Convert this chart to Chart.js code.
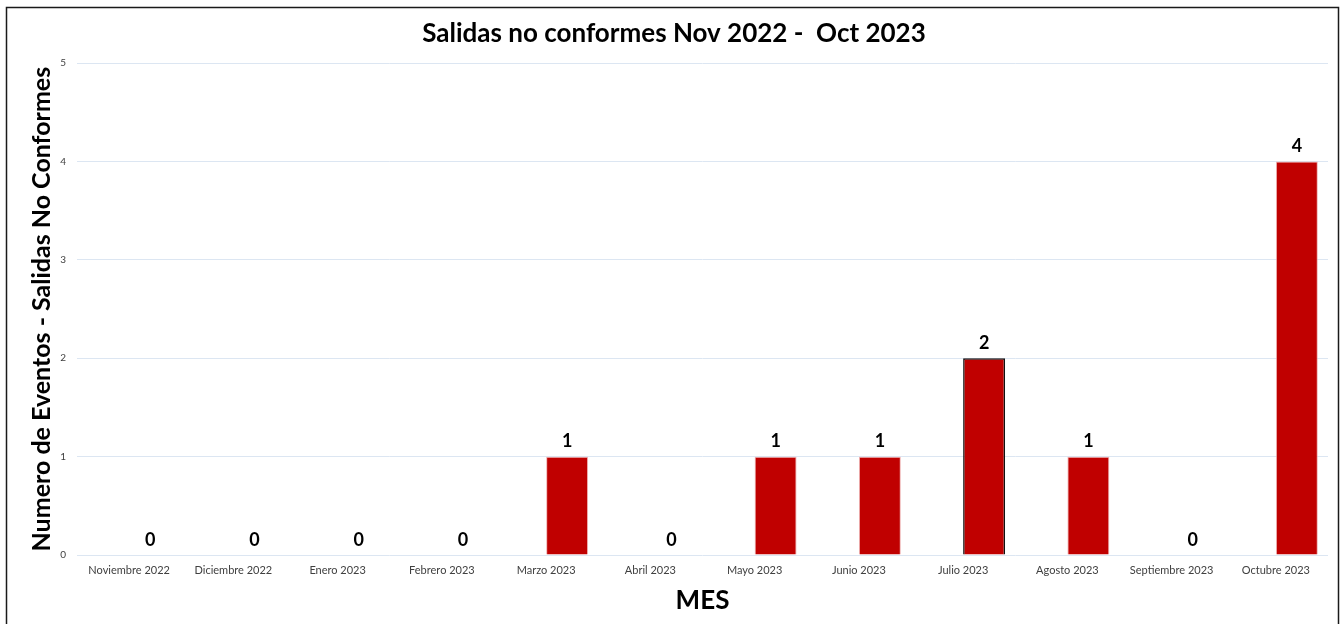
<!DOCTYPE html>
<html>
<head>
<meta charset="utf-8">
<script src="https://cdn.jsdelivr.net/npm/chart.js@4.4.0/dist/chart.umd.min.js"></script>
<style>
  html, body { margin: 0; padding: 0; background: #ffffff; }
  #wrap { width: 1344px; height: 624px; position: relative; }
</style>
</head>
<body>
<div id="wrap"><canvas id="chart" width="1344" height="624"></canvas></div>
<script>
// Monthly count of non-conforming outputs
const months = [
  'Noviembre 2022', 'Diciembre 2022', 'Enero 2023', 'Febrero 2023',
  'Marzo 2023', 'Abril 2023', 'Mayo 2023', 'Junio 2023',
  'Julio 2023', 'Agosto 2023', 'Septiembre 2023', 'Octubre 2023'
];
// Empty companion series: keeps its slot in each group, so the event bars sit right of centre
const serieVacia = [null, null, null, null, null, null, null, null, null, null, null, null];
const eventos = [0, 0, 0, 0, 1, 0, 1, 1, 2, 1, 0, 4];
const yTicks = [0, 1, 2, 3, 4, 5];

const chartTitle = 'Salidas no conformes Nov 2022 -  Oct 2023';
const yTitle = 'Numero de Eventos - Salidas No Conformes';
const xTitle = 'MES';

const FONT = 'Lato, "Open Sans", "DejaVu Sans", sans-serif';

// White background with a thin dark frame around the chart
const framePlugin = {
  id: 'frame',
  beforeDraw(chart) {
    const c = chart.ctx;
    c.save();
    c.fillStyle = '#ffffff';
    c.fillRect(0, 0, chart.width, chart.height);
    c.strokeStyle = '#1a1a1a';
    c.lineWidth = 1.5;
    c.strokeRect(6.5, 7.5, 1332, 640);
    c.restore();
  }
};

// Value labels above each event bar
const valueLabels = {
  id: 'valueLabels',
  afterDatasetsDraw(chart) {
    const c = chart.ctx;
    const meta = chart.getDatasetMeta(1);
    c.save();
    c.font = 'bold 18px ' + FONT;
    c.fillStyle = '#000000';
    c.textAlign = 'center';
    c.textBaseline = 'bottom';
    meta.data.forEach((bar, i) => {
      c.fillText(String(chart.data.datasets[1].data[i]), bar.x, bar.y - 6);
    });
    c.restore();
  }
};

new Chart(document.getElementById('chart'), {
  type: 'bar',
  data: {
    labels: months,
    datasets: [
      {
        data: serieVacia,
        backgroundColor: 'rgba(0,0,0,0)',
        barPercentage: 1.0,
        categoryPercentage: 0.805
      },
      {
        data: eventos,
        backgroundColor: '#C00000',
        borderColor: (ctx) => ctx.raw === 2 ? '#111111' : 'rgba(235,160,160,0.8)',
        borderWidth: (ctx) => ctx.raw === 2 ? 1.5 : 1,
        borderSkipped: 'bottom',
        barPercentage: 1.0,
        categoryPercentage: 0.805
      }
    ]
  },
  options: {
    responsive: false,
    animation: false,
    layout: { padding: { left: 20, right: 16, top: 0, bottom: 0 } },
    plugins: {
      legend: { display: false },
      tooltip: { enabled: false },
      title: {
        display: true,
        text: chartTitle,
        color: '#000000',
        font: { family: FONT, size: 26, weight: 'bold' },
        padding: { top: 18, bottom: 14 }
      }
    },
    scales: {
      x: {
        grid: { display: false, drawTicks: false },
        border: { display: false },
        ticks: {
          color: '#404040',
          font: { family: FONT, size: 11 },
          padding: 9,
          maxRotation: 0,
          autoSkip: false
        },
        title: {
          display: true,
          text: xTitle,
          color: '#000000',
          font: { family: FONT, size: 26, weight: 'bold' },
          padding: { top: 0, bottom: 8 }
        },
        afterFit(scale) { scale.height = 69; }
      },
      y: {
        min: 0,
        max: 5,
        afterBuildTicks(scale) { scale.ticks = yTicks.map(v => ({ value: v })); },
        grid: { color: '#dce6f2', lineWidth: 1, drawTicks: false },
        border: { display: false },
        ticks: {
          color: '#404040',
          font: { family: FONT, size: 10 },
          padding: 11
        },
        title: {
          display: true,
          text: yTitle,
          color: '#000000',
          font: { family: FONT, size: 25, weight: 'bold' },
          padding: { top: 7, bottom: 0 }
        },
        afterFit(scale) { scale.width = 57; }
      }
    }
  },
  plugins: [framePlugin, valueLabels]
});
</script>
</body>
</html>
